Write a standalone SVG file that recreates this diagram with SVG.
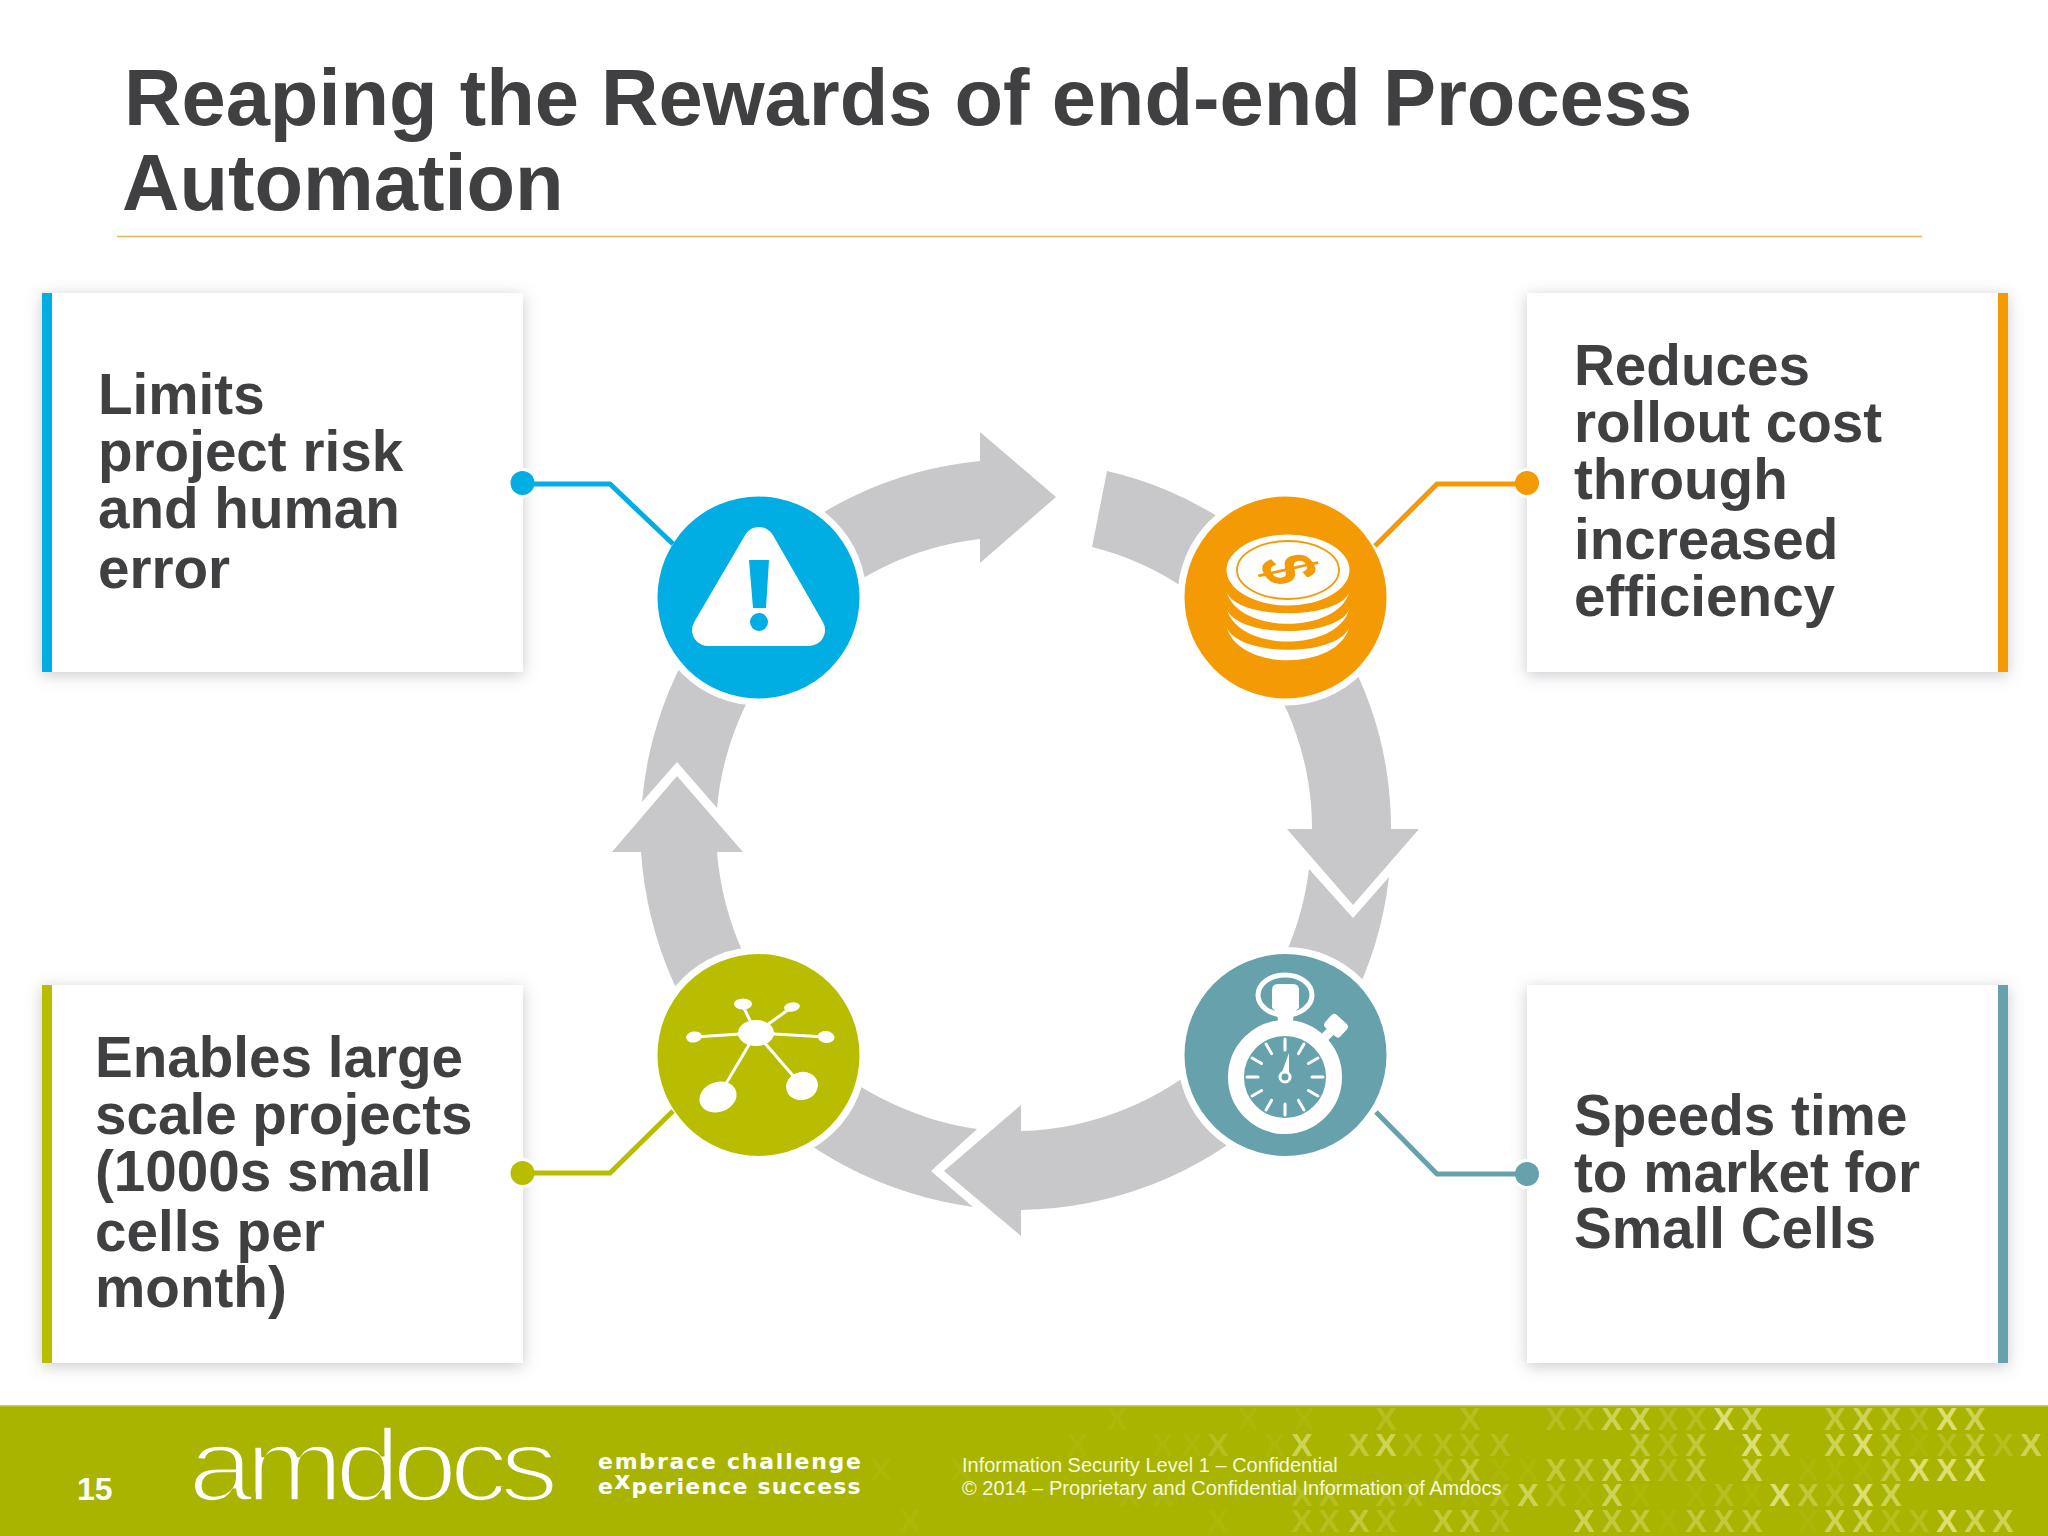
<svg xmlns="http://www.w3.org/2000/svg" width="2048" height="1536" viewBox="0 0 2048 1536">
<defs>
<filter id="sh" x="-10%" y="-10%" width="120%" height="120%"><feDropShadow dx="0" dy="3" stdDeviation="8" flood-color="#8a8a96" flood-opacity="0.45"/></filter>
</defs>
<style>
text{font-family:"Liberation Sans",Arial,sans-serif}
.title{font-size:79.5px;font-weight:700;fill:#404042}
.body{font-size:56.6px;font-weight:700;fill:#404042}
.card{fill:#fff;filter:url(#sh)}
.arrow{fill:#c8c8cb}
.halo{fill:#fff}
.conn{fill:none;stroke-width:5}
.ico{fill:#fff}
.wl{stroke:#fff;fill:none}
.x{font-size:32px;font-weight:700;fill:#f6f2aa;text-anchor:middle}
.a{fill-opacity:.08}.b{fill-opacity:.2}.c{fill-opacity:.36}.d{fill-opacity:.52}.e{fill-opacity:.7}
.ft{font-size:20px;fill:#f6f8de}
.tag{font-family:"DejaVu Sans",sans-serif;font-size:22px;font-weight:700;fill:#fff}
</style>
<rect width="2048" height="1536" fill="#fff"/>
<g id="title">
<text class="title" x="124" y="125">Reaping the Rewards of end-end Process</text>
<text class="title" x="122" y="210">Automation</text>
<line x1="117" y1="236.5" x2="1922" y2="236.5" stroke="#e9b35c" stroke-width="1.5"/>
</g>
<g id="card-risk">
<rect class="card" x="42" y="293" width="481" height="379"/>
<rect x="42" y="293" width="10" height="379" fill="#00aee3"/>
<text class="body" x="98" y="414">Limits</text><text class="body" x="98" y="471">project risk</text><text class="body" x="98" y="528">and human</text><text class="body" x="98" y="588">error</text>
</g>
<g id="card-cost">
<rect class="card" x="1527" y="293" width="481" height="379"/>
<rect x="1998" y="293" width="10" height="379" fill="#f39a05"/>
<text class="body" x="1574" y="385">Reduces</text><text class="body" x="1574" y="442">rollout cost</text><text class="body" x="1574" y="499">through</text><text class="body" x="1574" y="559">increased</text><text class="body" x="1574" y="616">efficiency</text>
</g>
<g id="card-scale">
<rect class="card" x="42" y="985" width="481" height="378"/>
<rect x="42" y="985" width="10" height="378" fill="#b8bd00"/>
<text class="body" x="95" y="1077">Enables large</text><text class="body" x="95" y="1134">scale projects</text><text class="body" x="95" y="1191">(1000s small</text><text class="body" x="95" y="1251">cells per</text><text class="body" x="95" y="1307">month)</text>
</g>
<g id="card-speed">
<rect class="card" x="1527" y="985" width="481" height="378"/>
<rect x="1998" y="985" width="10" height="378" fill="#67a2ac"/>
<text class="body" x="1574" y="1135">Speeds time</text><text class="body" x="1574" y="1192">to market for</text><text class="body" x="1574" y="1248">Small Cells</text>
</g>
<g id="arrows">
<path class="arrow" d="M642,802 A375,375 0 0 1 980,461 L980,432 L1056,497 L980,563 L980,539 A298,298 0 0 0 717,808 L677,762 Z"/>
<path class="arrow" d="M1107,471 A366,366 0 0 1 1391,829 L1419,829 L1353,905 L1287,829 L1312,829 A290,290 0 0 0 1092,547 Z"/>
<path class="arrow" d="M1389,877 A375,375 0 0 1 1021,1210 L1021,1236 L944,1171 L1021,1105 L1021,1131 A298,298 0 0 0 1309,869 L1353,918 Z"/>
<path class="arrow" d="M977,1129 L931,1171 L973,1207 A385,385 0 0 1 641,852 L612,852 L677,776 L743,852 L717,852 A305,305 0 0 0 977,1129 Z"/>
</g>
<g id="node-risk">
<circle class="halo" cx="758.5" cy="597.5" r="108"/>
<circle cx="758.5" cy="597.5" r="101" fill="#00aee3"/>
<polygon points="759,543 809,630 708,630" fill="#fff" stroke="#fff" stroke-width="32" stroke-linejoin="round"/>
<polygon points="749,560 769,560 766,608 753,608" fill="#00aee3"/>
<circle cx="759" cy="622" r="9" fill="#00aee3"/>
</g>
<g id="node-cost">
<circle class="halo" cx="1285.5" cy="597.5" r="108"/>
<circle cx="1285.5" cy="597.5" r="101" fill="#f39a05"/>
<ellipse class="ico" cx="1288" cy="570" rx="61.5" ry="35.5"/>
<ellipse cx="1288" cy="570" rx="51" ry="29" fill="none" stroke="#f39a05" stroke-width="1.8"/>
<text transform="translate(1288,569) scale(1,.62) rotate(70)" x="0" y="26" text-anchor="middle" style="font-size:78px;font-weight:700;fill:#f39a05">$</text>
<path class="ico" d="M1227,593 C1240,634 1336,634 1349,593 C1336,620 1240,620 1227,593 Z"/>
<path class="ico" d="M1227,610 C1240,652 1336,652 1349,610 C1336,638 1240,638 1227,610 Z"/>
<path class="ico" d="M1227,628 C1240,671 1336,671 1349,628 C1336,657 1240,657 1227,628 Z"/>
</g>
<g id="node-scale">
<circle class="halo" cx="758.5" cy="1055" r="108"/>
<circle cx="758.5" cy="1055" r="101" fill="#b8bd00"/>
<g class="wl" stroke-width="3">
<path d="M756,1033 L742,1004 M756,1033 L792,1007 M756,1033 L694,1037 M756,1033 L826,1037 M756,1033 L718,1097 M756,1033 L802,1086"/>
</g>
<ellipse class="ico" cx="756" cy="1033" rx="18" ry="13"/>
<ellipse class="ico" cx="743" cy="1004" rx="9" ry="5.5"/>
<ellipse class="ico" cx="792" cy="1007" rx="8" ry="4.5" transform="rotate(-10 792 1007)"/>
<ellipse class="ico" cx="694" cy="1037" rx="8" ry="5.5" transform="rotate(-8 694 1037)"/>
<ellipse class="ico" cx="826" cy="1037" rx="8.5" ry="6" transform="rotate(6 826 1037)"/>
<ellipse class="ico" cx="718" cy="1097" rx="19" ry="15" transform="rotate(-20 718 1097)"/>
<ellipse class="ico" cx="802" cy="1086" rx="16" ry="14" transform="rotate(-15 802 1086)"/>
</g>
<g id="node-speed">
<circle class="halo" cx="1285.5" cy="1055" r="108"/>
<circle cx="1285.5" cy="1055" r="101" fill="#67a2ac"/>
<ellipse cx="1285" cy="995" rx="27" ry="20" fill="none" stroke="#fff" stroke-width="5"/>
<path class="ico" d="M1272,990 Q1272,984 1278,984 L1293,984 Q1299,984 1299,990 L1299,1008 Q1293,1012 1293,1022 L1278,1022 Q1278,1012 1272,1008 Z"/>
<rect class="ico" x="1326" y="1017" width="21" height="17" rx="4" transform="rotate(42 1336 1025)"/>
<path class="wl" stroke-width="9" d="M1322,1040 L1332,1030"/>
<circle cx="1285" cy="1077" r="49" fill="#67a2ac" stroke="#fff" stroke-width="16"/>
<g stroke="#fff" stroke-width="3" stroke-linecap="round">
<path d="M1285,1039 V1050"/>
<path d="M1285,1039 V1050" transform="rotate(30 1285 1077)"/>
<path d="M1285,1039 V1050" transform="rotate(60 1285 1077)"/>
<path d="M1285,1039 V1050" transform="rotate(90 1285 1077)"/>
<path d="M1285,1039 V1050" transform="rotate(120 1285 1077)"/>
<path d="M1285,1039 V1050" transform="rotate(150 1285 1077)"/>
<path d="M1285,1039 V1050" transform="rotate(180 1285 1077)"/>
<path d="M1285,1039 V1050" transform="rotate(210 1285 1077)"/>
<path d="M1285,1039 V1050" transform="rotate(240 1285 1077)"/>
<path d="M1285,1039 V1050" transform="rotate(270 1285 1077)"/>
<path d="M1285,1039 V1050" transform="rotate(300 1285 1077)"/>
<path d="M1285,1039 V1050" transform="rotate(330 1285 1077)"/>
</g>
<polygon class="ico" points="1289,1053 1289,1072 1282,1072"/>
<circle cx="1285" cy="1077" r="5" fill="#67a2ac" stroke="#fff" stroke-width="3"/>
</g>
<g id="connectors">
<circle class="halo" cx="522.5" cy="483" r="15"/><circle class="halo" cx="1527" cy="483" r="15"/><circle class="halo" cx="522.5" cy="1173" r="15"/><circle class="halo" cx="1527" cy="1174" r="15"/>
<path class="conn" stroke="#00aee3" d="M522,484 H610 L673,544"/><circle cx="522.5" cy="483" r="12" fill="#00aee3"/>
<path class="conn" stroke="#f39a05" d="M1527,484 H1437 L1375,546"/><circle cx="1527" cy="483" r="12" fill="#f39a05"/>
<path class="conn" stroke="#b8bd00" d="M522,1173 H610 L673,1111"/><circle cx="522.5" cy="1173" r="12" fill="#b8bd00"/>
<path class="conn" stroke="#67a2ac" d="M1527,1174 H1437 L1376,1112"/><circle cx="1527" cy="1174" r="12" fill="#67a2ac"/>
</g>
<g id="footer">
<rect x="0" y="1405" width="2048" height="131" fill="#a8b400"/>
<rect x="0" y="1405" width="2048" height="1.5" fill="#c4cc60"/>
<g id="pattern">
<text class="x" y="1430"><tspan class="a" x="1117 1248 1304">XXX</tspan><tspan class="b" x="1386 1470 1556 1584 1668 1696 1919">XXXXXXX</tspan><tspan class="c" x="1835 1891">XX</tspan><tspan class="d" x="1612 1640 1752 1863 1975">XXXXX</tspan><tspan class="e" x="1724 1947">XX</tspan></text>
<text class="x" y="1456"><tspan class="a" x="1077 1163 1192 1275 1919">XXXXX</tspan><tspan class="b" x="1218 1413 1443 1470 1500 1668 1947 2003">XXXXXXXX</tspan><tspan class="c" x="1359 1640 1696 1891 1975">XXXXX</tspan><tspan class="d" x="1302 1386 1780 1835 2031">XXXXX</tspan><tspan class="e" x="1752 1863">XX</tspan></text>
<text class="x" y="1481"><tspan class="a" x="881 961 1500 1528 1808 1835 1863">XXXXXXX</tspan><tspan class="b" x="1443 1668">XX</tspan><tspan class="c" x="1470 1556 1584 1696 1891">XXXXX</tspan><tspan class="d" x="1612 1640 1752">XXX</tspan><tspan class="e" x="1919 1947 1975">XXX</tspan></text>
<text class="x" y="1506"><tspan class="a" x="1129 1163 1470 1584 1640 1696 1752">XXXXXXX</tspan><tspan class="b" x="1302 1329 1386 1413 1500 1556 1724 1835">XXXXXXXX</tspan><tspan class="c" x="1808">X</tspan><tspan class="d" x="1528 1612 1891">XXX</tspan><tspan class="e" x="1780 1863">XX</tspan></text>
<text class="x" y="1532"><tspan class="a" x="910 1218 1668 1808">XXXX</tspan><tspan class="b" x="1302 1329 1386 1500 1891 1919">XXXXXX</tspan><tspan class="c" x="1359 1443 1470 1612 1640 1696 1724 1752">XXXXXXXX</tspan><tspan class="d" x="1584 1835 1863 1975 2003">XXXXX</tspan><tspan class="e" x="1947">X</tspan></text>
</g>
<text x="77" y="1500" style="font-size:32px;font-weight:700;fill:#fff">15</text>
<text transform="translate(188,1501) scale(1.18,1.04)" letter-spacing="-7.2" style="font-size:100px;fill:#fff;stroke:#a8b400;stroke-width:3.5">amdocs</text>
<text class="tag" x="598" y="1469" textLength="263">embrace challenge</text>
<text class="tag" x="598" y="1494" letter-spacing="1.2">e<tspan dy="-5" font-size="25">x</tspan><tspan dy="5">perience success</tspan></text>
<text class="ft" x="962" y="1472">Information Security Level 1 – Confidential</text>
<text class="ft" x="962" y="1495">© 2014 – Proprietary and Confidential Information of Amdocs</text>
</g>
</svg>
